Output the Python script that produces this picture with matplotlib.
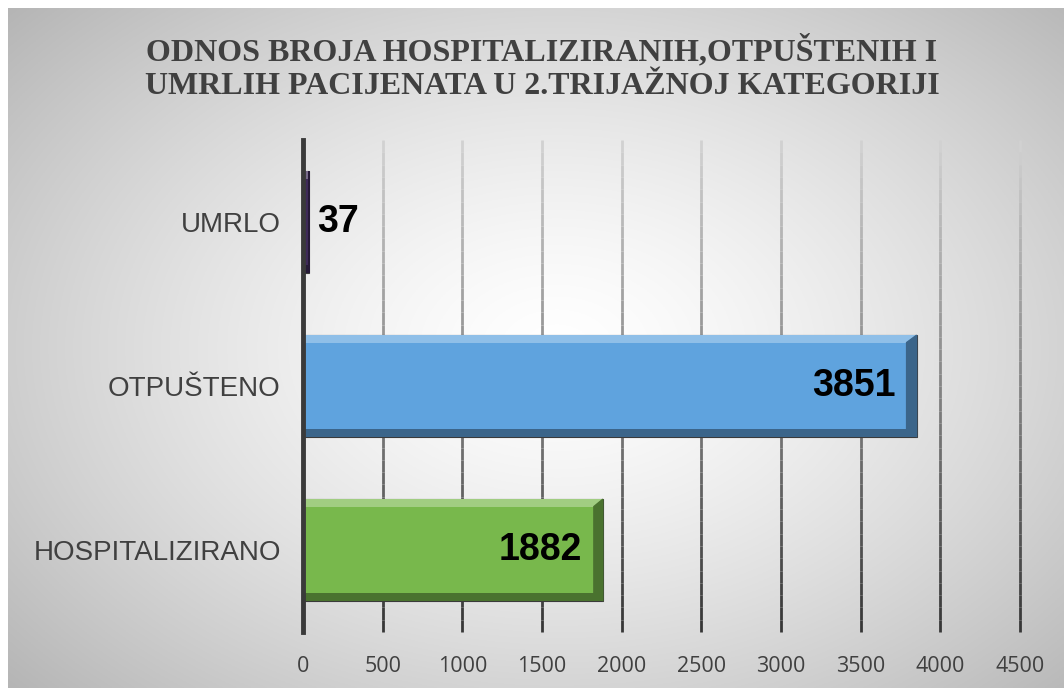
import numpy as np
import matplotlib
matplotlib.use("Agg")
from matplotlib import pyplot as plt
from matplotlib.collections import LineCollection

# data
categories = ["HOSPITALIZIRANO", "OTPUŠTENO", "UMRLO"]
values = [1882, 3851, 37]
bar_colors = ["#78b84c", "#5fa3de", "#3e2a58"]
xticks = [0, 500, 1000, 1500, 2000, 2500, 3000, 3500, 4000, 4500]
title = "ODNOS BROJA HOSPITALIZIRANIH,OTPUŠTENIH I\nUMRLIH PACIJENATA U 2.TRIJAŽNOJ KATEGORIJI"

W, H = 1064, 688
fig = plt.figure(figsize=(W / 100, H / 100), dpi=100)
fig.patch.set_facecolor("white")

# radial gradient background
bg = fig.add_axes([8 / W, 0, 1 - 8 / W, 1 - 8 / H])
bg.set_axis_off()
yy, xx = np.mgrid[0:1:400j, 0:1:600j]
r = np.sqrt(((xx - 0.52) / 0.75) ** 2 + ((yy - 0.5) / 0.8) ** 2)
shade = np.clip(1.0 - 0.32 * r ** 1.4, 0, 1)
bg.imshow(np.dstack([shade] * 3), aspect="auto", extent=[0, 1, 0, 1])

ax = fig.add_axes([303 / W, 1 - 632 / H, 717 / W, 492 / H])
ax.set_facecolor("none")
ax.set_xlim(0, 4500)
ax.set_ylim(-0.5, 2.5)

# gridlines with gradient (light top, dark bottom)
n = 40
segs, cols = [], []
for xt in xticks[1:]:
    ys = np.linspace(2.5, -0.5, n + 1)
    for i in range(n):
        segs.append([(xt, ys[i]), (xt, ys[i + 1])])
        g = 0.82 - 0.62 * (i / n)
        cols.append((g, g, g))
grid = LineCollection(segs, colors=cols, linewidths=2, zorder=1)
grid.set_clip_on(False)
ax.add_collection(grid)

ypos = np.arange(len(categories))
h = 0.62
ax.barh(ypos, values, height=h, color=bar_colors, edgecolor="#3a3a3a",
        linewidth=0.8, zorder=3)

# bevel highlights / shadows
bev = 0.045
for y, v, c in zip(ypos, values, bar_colors):
    rgb = np.array(matplotlib.colors.to_rgb(c))
    light = np.clip(rgb * 0.7 + 0.3, 0, 1)
    dark = rgb * 0.62
    ax.barh(y + h / 2 - bev / 2, v, height=bev, color=light, zorder=4)
    ax.barh(y - h / 2 + bev / 2, v, height=bev, color=dark, zorder=4)
    dx = min(v * 0.03, 10 * 4500 / 717)
    ax.fill([v - dx, v, v, v - dx], [y - h / 2 + bev, y - h / 2, y + h / 2, y + h / 2 - bev],
            color=dark, zorder=4)

# value labels
for y, v in zip(ypos, values):
    if v < 500:
        ax.annotate(str(v), (v, y), xytext=(6, 0), textcoords="offset points",
                    ha="left", va="center", fontsize=27, fontweight="bold",
                    family="Liberation Sans", color="black", zorder=5)
    else:
        ax.annotate(str(v), (v, y), xytext=(-15, 0), textcoords="offset points",
                    ha="right", va="center", fontsize=27, fontweight="bold",
                    family="Liberation Sans", color="black", zorder=5)

ax.set_yticks(ypos)
ax.set_yticklabels(categories, fontsize=20, family="Liberation Sans", color="#404040")
ax.set_xticks(xticks)
ax.set_xticklabels([str(t) for t in xticks], fontsize=15.5, family="Open Sans", color="#404040")
ax.tick_params(axis="y", length=0, pad=16)
ax.tick_params(axis="x", length=0, pad=17)
for s in ["top", "right", "bottom"]:
    ax.spines[s].set_visible(False)
ax.spines["left"].set_color("#3a3a3a")
ax.spines["left"].set_linewidth(3.5)
ax.spines["left"].set_zorder(6)

fig.text(542 / W, 1 - 68 / H, title, ha="center", va="center", fontsize=23,
         fontweight="bold", family="Liberation Serif", color="#404040",
         linespacing=1.2)

fig.savefig("out.png", dpi=100)
